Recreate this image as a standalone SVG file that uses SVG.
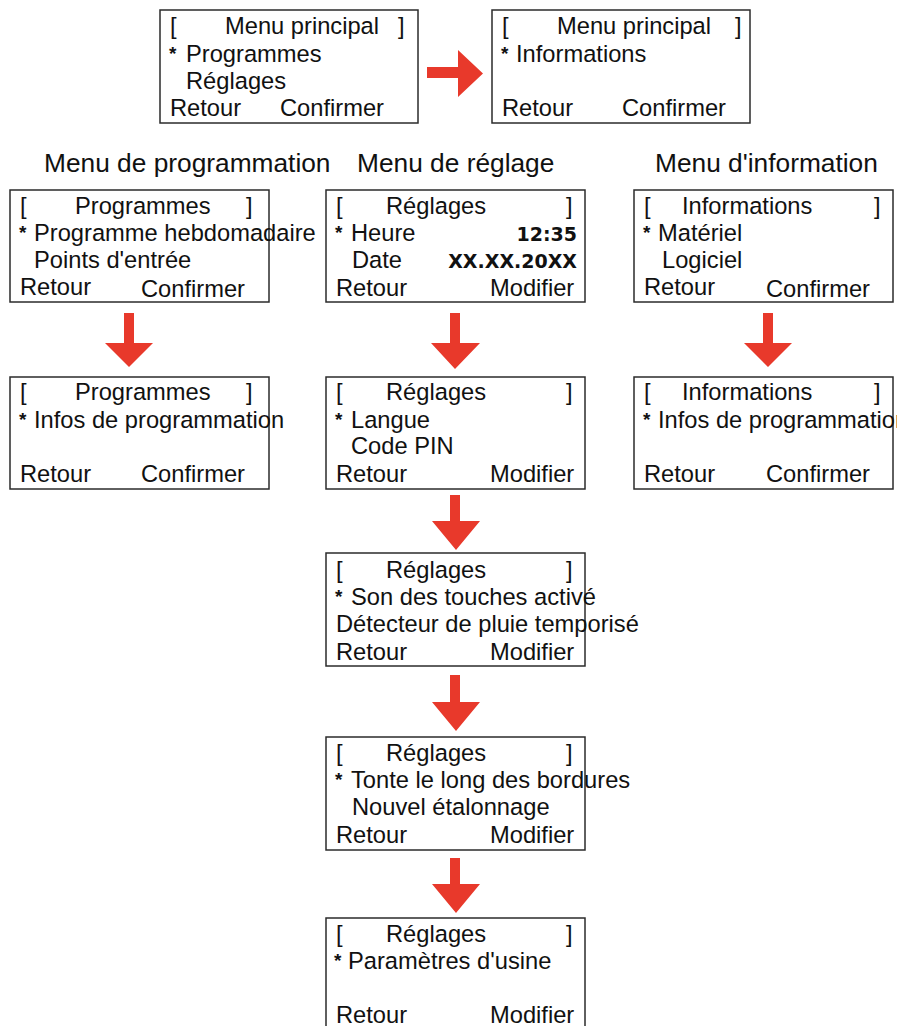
<svg xmlns="http://www.w3.org/2000/svg" width="897" height="1026" viewBox="0 0 897 1026">
<style>
.box{fill:#fff;stroke:#2b2b2b;stroke-width:1.5}
text{font-family:"Liberation Sans",Arial,sans-serif;font-size:23.7px;fill:#111}
.h{font-size:26.3px}
.s{font-weight:bold;font-size:19px}
.b{font-family:"DejaVu Sans",sans-serif;font-weight:bold;font-size:19px;text-anchor:end}
.arr{fill:#e8392b}
</style>
<rect width="897" height="1026" fill="#fff"/>
<g id="connectors">
<path class="arr" d="M427,67 H458 V50 L483,73.5 L458,97 V78 H427 Z"/>
<path class="arr" d="M124,313 H134 V343 H153 L129,367 L105,343 H124 Z"/>
<path class="arr" d="M450,313 H460 V343 H480 L455,369 L431,343 H450 Z"/>
<path class="arr" d="M763,313 H773 V343 H792 L768,367 L744,343 H763 Z"/>
<path class="arr" d="M450,495 H460 V521 H480 L456,550 L432,521 H450 Z"/>
<path class="arr" d="M450,675 H460 V702 H480 L456,731 L432,702 H450 Z"/>
<path class="arr" d="M450,858 H460 V884 H480 L456,913 L432,884 H450 Z"/>
</g>
<g id="headers">
<text class="h" x="44" y="172">Menu de programmation</text>
<text class="h" x="357" y="172">Menu de réglage</text>
<text class="h" x="655" y="172">Menu d'information</text>
</g>
<g id="main1">
<rect class="box" x="160" y="10" width="258" height="113"/>
<text x="170" y="34">[</text><text x="225" y="34">Menu principal</text><text x="398" y="34">]</text>
<text class="s" x="169" y="60">*</text><text x="186" y="62">Programmes</text>
<text x="186" y="89">Réglages</text>
<text x="170" y="116">Retour</text><text x="280" y="116">Confirmer</text>
</g>
<g id="main2">
<rect class="box" x="492" y="10" width="258" height="113"/>
<text x="502" y="34">[</text><text x="557" y="34">Menu principal</text><text x="735" y="34">]</text>
<text class="s" x="501" y="60">*</text><text x="516" y="62">Informations</text>
<text x="502" y="116">Retour</text><text x="622" y="116">Confirmer</text>
</g>
<g id="prog1">
<rect class="box" x="10" y="190" width="259" height="112"/>
<text x="20" y="214">[</text><text x="75" y="214">Programmes</text><text x="246" y="214">]</text>
<text class="s" x="19" y="239">*</text><text x="34" y="241">Programme hebdomadaire</text>
<text x="34" y="268">Points d'entrée</text>
<text x="20" y="295">Retour</text><text x="141" y="297">Confirmer</text>
</g>
<g id="prog2">
<rect class="box" x="10" y="377" width="259" height="112"/>
<text x="20" y="400">[</text><text x="75" y="400">Programmes</text><text x="246" y="400">]</text>
<text class="s" x="19" y="426">*</text><text x="34" y="428">Infos de programmation</text>
<text x="20" y="482">Retour</text><text x="141" y="482">Confirmer</text>
</g>
<g id="regl1">
<rect class="box" x="326" y="190" width="259" height="112"/>
<text x="336" y="214">[</text><text x="386" y="214">Réglages</text><text x="566" y="214">]</text>
<text class="s" x="335" y="239">*</text><text x="351" y="241">Heure</text><text class="b" x="577" y="241">12:35</text>
<text x="352" y="268">Date</text><text class="b" x="577" y="268">XX.XX.20XX</text>
<text x="336" y="296">Retour</text><text x="490" y="296">Modifier</text>
</g>
<g id="regl2">
<rect class="box" x="326" y="377" width="259" height="112"/>
<text x="336" y="400">[</text><text x="386" y="400">Réglages</text><text x="566" y="400">]</text>
<text class="s" x="335" y="426">*</text><text x="351" y="428">Langue</text>
<text x="351" y="454">Code PIN</text>
<text x="336" y="482">Retour</text><text x="490" y="482">Modifier</text>
</g>
<g id="regl3">
<rect class="box" x="326" y="553" width="259" height="113"/>
<text x="336" y="578">[</text><text x="386" y="578">Réglages</text><text x="566" y="578">]</text>
<text class="s" x="335" y="603">*</text><text x="351" y="605">Son des touches activé</text>
<text x="336" y="632">Détecteur de pluie temporisé</text>
<text x="336" y="660">Retour</text><text x="490" y="660">Modifier</text>
</g>
<g id="regl4">
<rect class="box" x="326" y="737" width="259" height="113"/>
<text x="336" y="761">[</text><text x="386" y="761">Réglages</text><text x="566" y="761">]</text>
<text class="s" x="335" y="786">*</text><text x="351" y="788">Tonte le long des bordures</text>
<text x="352" y="815">Nouvel étalonnage</text>
<text x="336" y="843">Retour</text><text x="490" y="843">Modifier</text>
</g>
<g id="regl5">
<rect class="box" x="326" y="918" width="259" height="120"/>
<text x="336" y="942">[</text><text x="386" y="942">Réglages</text><text x="566" y="942">]</text>
<text class="s" x="334" y="967">*</text><text x="348" y="969">Paramètres d'usine</text>
<text x="336" y="1023">Retour</text><text x="490" y="1023">Modifier</text>
</g>
<g id="info1">
<rect class="box" x="634" y="190" width="259" height="112"/>
<text x="644" y="214">[</text><text x="682" y="214">Informations</text><text x="874" y="214">]</text>
<text class="s" x="643" y="239">*</text><text x="658" y="241">Matériel</text>
<text x="662" y="268">Logiciel</text>
<text x="644" y="295">Retour</text><text x="766" y="297">Confirmer</text>
</g>
<g id="info2">
<rect class="box" x="634" y="377" width="259" height="112"/>
<text x="644" y="400">[</text><text x="682" y="400">Informations</text><text x="874" y="400">]</text>
<text class="s" x="643" y="426">*</text><text x="658" y="428">Infos de programmation</text>
<text x="644" y="482">Retour</text><text x="766" y="482">Confirmer</text>
</g>
</svg>
